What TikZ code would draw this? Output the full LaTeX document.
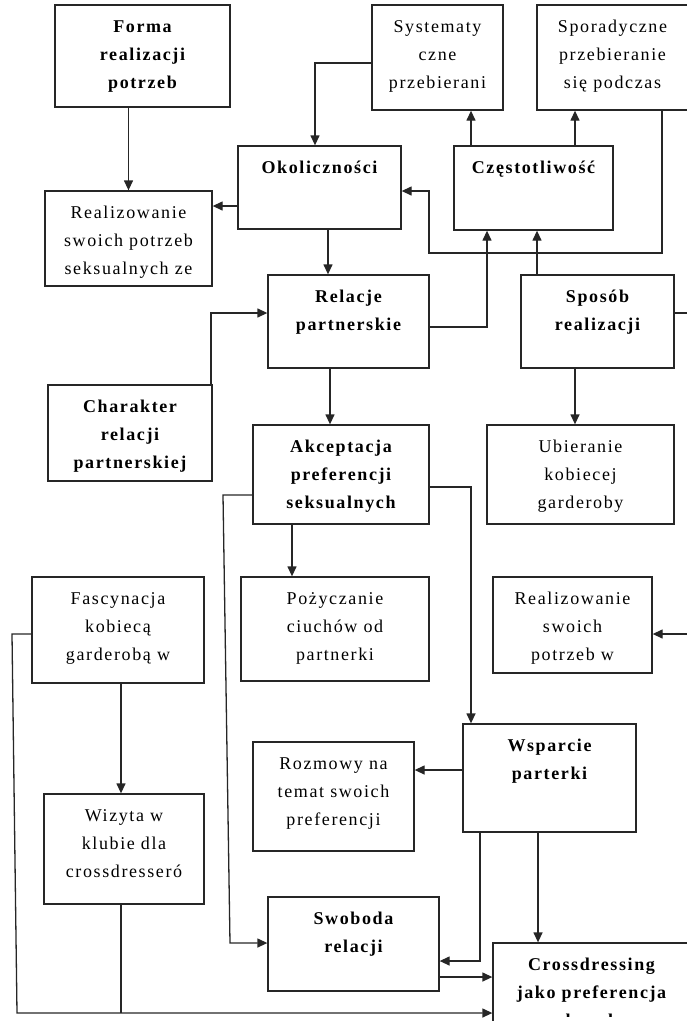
\documentclass[tikz,border=0pt]{standalone}
\usepackage{fontspec}
\setmainfont{Liberation Serif}[LetterSpace=9]
\usetikzlibrary{arrows.meta,fit,calc}

\tikzset{
  frame/.style={draw=black!85, line width=1.3pt, inner sep=0pt},
  lbl/.style={align=center, font=\fontsize{18}{28}\selectfont, inner sep=0pt, anchor=base, text=black},
  lblb/.style={lbl, font=\fontsize{18}{28}\selectfont\bfseries},
  link/.style={draw=black!85, line width=1.3pt},
  arr/.style={link, -{Triangle[length=10pt,width=9pt]}},
}

% a box given by its corners; its text (#8 lines) hangs from the top edge,
% the node's base being the baseline of its last line
\newcommand{\panel}[8]{%
  \node[frame, fit={(#2,#3)(#4,#5)}] (#1) {};
  \node[#6] (#1-t) at ($(#1.north)+(0,28*#8)$) {#7};
}

\begin{document}
\begin{tikzpicture}[x=1pt, y=-1pt]
\useasboundingbox (0,0) rectangle (687,1021);
\clip (0,0) rectangle (687,1021);

\panel{forma}{55}{5}{230}{107}{lblb}{Forma\\realizacji\\potrzeb}{3}
\panel{sys}{372}{5}{503}{110}{lbl}{Systematy\\czne\\przebierani}{3}
\panel{spor}{537}{5}{688}{110}{lbl}{Sporadyczne\\przebieranie\\się podczas}{3}
\panel{okol}{238}{146}{401}{229}{lblb}{Okoliczności}{1}
\panel{czest}{454}{146}{613}{230}{lblb}{Częstotliwość}{1}
\panel{realze}{45}{191}{212}{286}{lbl}{Realizowanie\\swoich potrzeb\\seksualnych ze}{3}
\panel{relacje}{268}{275}{429}{368}{lblb}{Relacje\\partnerskie}{2}
\panel{sposob}{521}{275}{674}{368}{lblb}{Sposób\\realizacji}{2}
\panel{charakter}{48}{385}{212}{481}{lblb}{Charakter\\relacji\\partnerskiej}{3}
\panel{akc}{253}{425}{429}{524}{lblb}{Akceptacja\\preferencji\\seksualnych}{3}
\panel{ubier}{487}{425}{674}{524}{lbl}{Ubieranie\\kobiecej\\garderoby}{3}
\panel{fasc}{32}{577}{204}{683}{lbl}{Fascynacja\\kobiecą\\garderobą w}{3}
\panel{pozy}{241}{577}{429}{681}{lbl}{Pożyczanie\\ciuchów od\\partnerki}{3}
\panel{realw}{493}{577}{652}{673}{lbl}{Realizowanie\\swoich\\potrzeb w}{3}
\panel{rozm}{253}{742}{414}{851}{lbl}{Rozmowy na\\temat swoich\\preferencji}{3}
\panel{wsparcie}{463}{724}{636}{832}{lblb}{Wsparcie\\parterki}{2}
\panel{wizyta}{44}{794}{204}{904}{lbl}{Wizyta w\\klubie dla\\crossdresseró}{3}
\panel{swoboda}{268}{897}{439}{991}{lblb}{Swoboda\\relacji}{2}

% the last box runs past the bottom edge; its third line only peeks out
\node[frame, fit={(493,943)(690,1060)}] (cross) {};
\begin{scope}
  \clip (0,0) rectangle (687,1016.5);
  \node[lblb] (cross-t) at ($(cross.north)+(0,84)$) {Crossdressing\\jako preferencja\\seksualna};
\end{scope}

% loose ends running off the right edge
\coordinate (rstub) at (690,313);
\coordinate (lstub) at (690,634);

% connectors
\draw[arr] (forma.south -| realze.north) -- (realze.north);
\draw[arr] (sys.west |- 0,63) -| ($(okol.north)+(-4.5,0)$);
\draw[arr] (okol.west |- 0,206) -- (realze.east |- 0,206);
\draw[arr] (okol.south -| 328,0) -- (relacje.north -| 328,0);
\draw[arr] (czest.north -| 471,0) -- (sys.south -| 471,0);
\draw[arr] (czest.north -| 575,0) -- (spor.south -| 575,0);
\draw[arr] (spor.south -| 662,0) |- (429,253) |- (okol.east |- 0,191);
\draw[arr] (relacje.east |- 0,327) -| (czest.south -| 487,0);
\draw[arr] (sposob.north -| 537,0) -- (czest.south -| 537,0);
\draw[link] (sposob.east |- rstub) -- (rstub);
\draw[arr] (charakter.north -| 211,0) |- (relacje.west |- 0,313);
\draw[arr] (relacje.south -| 330,0) -- (akc.north -| 330,0);
\draw[arr] (sposob.south -| 575,0) -- (ubier.north -| 575,0);
\draw[arr] (akc.east |- 0,487) -| (wsparcie.north -| 471,0);
\draw[arr] (akc.west |- 0,495) -- (223,495) -- (230,943) -- (swoboda.west |- 0,943);
\draw[arr] (akc.south -| 292,0) -- (pozy.north -| 292,0);
\draw[arr] (lstub) -- (realw.east |- lstub);
\draw[arr] (fasc.south -| 121,0) -- (wizyta.north -| 121,0);
\draw[arr] (fasc.west |- 0,634) -- (12,634) -- (17,1013) -- (cross.west |- 0,1013);
\draw[link] (wizyta.south -| 121,0) -- (121,1013);
\draw[arr] (wsparcie.west |- 0,770) -- (rozm.east |- 0,770);
\draw[arr] (wsparcie.south -| 480,0) |- (swoboda.east |- 0,961);
\draw[arr] (wsparcie.south -| 538,0) -- (cross.north -| 538,0);
\draw[arr] (swoboda.east |- 0,977) -- (cross.west |- 0,977);
\end{tikzpicture}
\end{document}
